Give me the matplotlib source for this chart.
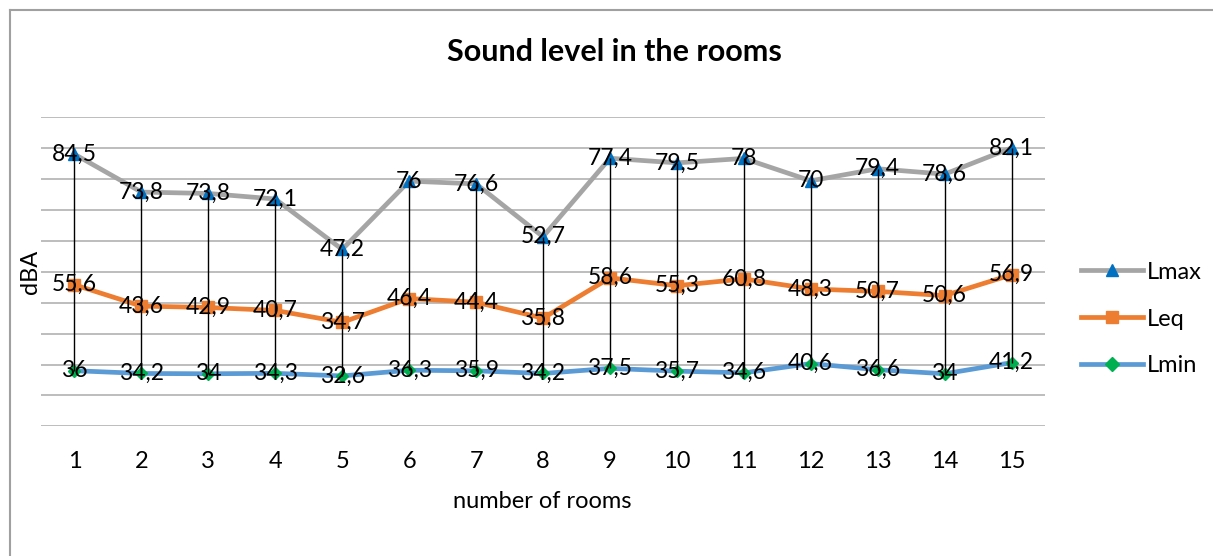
import numpy as np
import matplotlib
matplotlib.use("Agg")
from matplotlib import pyplot as plt
from matplotlib.lines import Line2D

plt.rcParams['font.family'] = ['Lato', 'DejaVu Sans']

# data (stacked line chart in the original)
rooms = [str(i) for i in range(1, 16)]
lmin = [36, 34.2, 34, 34.3, 32.6, 36.3, 35.9, 34.2, 37.5, 35.7, 34.6, 40.6, 36.6, 34, 41.2]
leq = [55.6, 43.6, 42.9, 40.7, 34.7, 46.4, 44.4, 35.8, 58.6, 55.3, 60.8, 48.3, 50.7, 50.6, 56.9]
lmax = [84.5, 73.8, 73.8, 72.1, 47.2, 76, 76.6, 52.7, 77.4, 79.5, 78, 70, 79.4, 78.6, 82.1]

c_lmax_line = '#A5A5A5'
c_lmax_mark = '#0070C0'
c_leq = '#ED7D31'
c_lmin_line = '#5B9BD5'
c_lmin_mark = '#00B050'

fs = 17

fig = plt.figure(figsize=(12.13, 5.56), dpi=100)
ax = fig.add_axes([41/1213, 1 - 426.3/556, 1004/1213, 309/556])

x = np.arange(len(rooms))
s_min = np.array(lmin)
s_eq = s_min + np.array(leq)
s_max = s_eq + np.array(lmax)

ax.set_ylim(0, 200)
ax.set_xlim(-0.5, len(rooms) - 0.5)
ax.set_yticks(np.arange(0, 201, 20))
ax.yaxis.grid(True, color='#ABABAB', lw=1.1)
ax.set_axisbelow(True)
for sp in ax.spines.values():
    sp.set_visible(False)
ax.tick_params(axis='y', left=False, labelleft=False)
ax.tick_params(axis='x', bottom=False, labelsize=fs, pad=14)
ax.set_xticks(x)
ax.set_xticklabels(rooms)

ax.plot(x, s_max, color=c_lmax_line, lw=3.4, marker='^', ms=8,
        mfc=c_lmax_mark, mec=c_lmax_mark, zorder=3)
ax.plot(x, s_eq, color=c_leq, lw=3.4, marker='s', ms=8,
        mfc=c_leq, mec=c_leq, zorder=3)
ax.plot(x, s_min, color=c_lmin_line, lw=3.4, marker='D', ms=6.5,
        mfc=c_lmin_mark, mec=c_lmin_mark, zorder=3)

# high-low lines
ax.vlines(x, s_min, s_max, color='black', lw=1, zorder=4)

def fmt(v):
    return f"{v:g}".replace('.', ',')

for vals, ys in [(lmax, s_max), (leq, s_eq), (lmin, s_min)]:
    for xi, v, yi in zip(x, vals, ys):
        ax.text(xi, yi, fmt(v), ha='center', va='center', fontsize=16.5,
                color='black', zorder=5)

fig.text(614/1213, 1 - 52/556, 'Sound level in the rooms', ha='center',
         va='center', fontsize=22, fontweight='bold')
fig.text(542/1213, 1 - 501/556, 'number of rooms', ha='center', va='center',
         fontsize=fs)
fig.text(31/1213, 1 - 272/556, 'dBA', ha='center', va='center',
         fontsize=fs, rotation=90)

handles = [
    Line2D([], [], color=c_lmax_line, lw=3.4, marker='^', ms=9, mfc=c_lmax_mark, mec=c_lmax_mark),
    Line2D([], [], color=c_leq, lw=3.4, marker='s', ms=9, mfc=c_leq, mec=c_leq),
    Line2D([], [], color=c_lmin_line, lw=3.4, marker='D', ms=7, mfc=c_lmin_mark, mec=c_lmin_mark),
]
fig.legend(handles, ['Lmax', 'Leq', 'Lmin'], loc='center left',
           bbox_to_anchor=(1060/1213, 1 - 319/556), frameon=False,
           fontsize=fs, handlelength=2.6, labelspacing=1.1, handletextpad=0.2)

# chart border (top and left visible)
fig.add_artist(Line2D([10/1213, 1], [1 - 10/556, 1 - 10/556], color='#A0A0A0', lw=1.5))
fig.add_artist(Line2D([10/1213, 10/1213], [0, 1 - 10/556], color='#A0A0A0', lw=1.5))

fig.savefig('out.png', dpi=100)
